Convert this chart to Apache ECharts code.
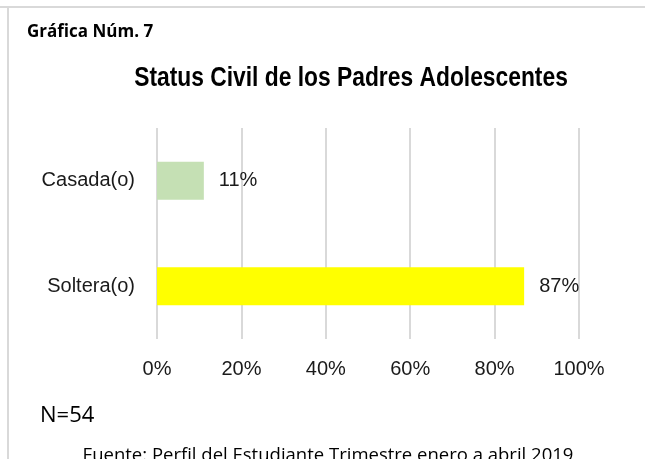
<!DOCTYPE html>
<html>
<head>
<meta charset="utf-8">
<style>
  html, body { margin: 0; padding: 0; background: #fff; }
  #main { width: 645px; height: 459px; }
</style>
<script src="https://cdn.jsdelivr.net/npm/echarts@6/dist/echarts.min.js"></script>
</head>
<body>
<div id="main"></div>
<script>
let categories = ['Casada(o)', 'Soltera(o)'];
let values = [11.1, 87.0];
let barColors = ['#c5e0b4', '#ffff00'];
let ticks = [0, 20, 40, 60, 80, 100];

let myChart = echarts.init(document.getElementById('main'));

// no narrow face installed, so Arial-metric sans at a width-matching size
let sans = '"Liberation Sans", Arial, sans-serif';
let body = '"Open Sans", sans-serif';

let option = {
    animation: false,
    backgroundColor: '#fff',
    grid: { left: 157, right: 66, top: 128, bottom: 120 },
    xAxis: {
        type: 'value',
        min: ticks[0],
        max: ticks[ticks.length - 1],
        interval: 20,
        axisLine: { show: false },
        axisTick: { show: false },
        splitLine: { lineStyle: { color: '#d9d9d9', width: 2 } },
        axisLabel: {
            margin: 20,
            color: '#1a1a1a',
            fontFamily: sans,
            fontSize: 20,
            formatter: '{value}%'
        }
    },
    yAxis: {
        type: 'category',
        inverse: true,
        data: categories,
        axisLine: { show: false },
        axisTick: { show: false },
        axisLabel: {
            margin: 22,
            color: '#1a1a1a',
            fontFamily: sans,
            fontSize: 20
        }
    },
    series: [{
        type: 'bar',
        barWidth: 38,
        data: values.map((v, i) => ({ value: v, itemStyle: { color: barColors[i] } })),
        label: {
            show: true,
            position: 'right',
            distance: 15,
            color: '#1a1a1a',
            fontFamily: sans,
            fontSize: 20,
            formatter: p => Math.round(p.value) + '%'
        }
    }],
    graphic: [
        { type: 'line', shape: { x1: 0, y1: 7, x2: 645, y2: 7 }, style: { stroke: '#d9d9d9', lineWidth: 2 } },
        { type: 'line', shape: { x1: 8, y1: 7, x2: 8, y2: 459 }, style: { stroke: '#d9d9d9', lineWidth: 2 } },
        { type: 'text', x: 27, y: 24, style: { text: 'Gráfica Núm. 7', font: 'bold 17px ' + body, fill: '#000' } },
        { type: 'text', x: 351, y: 65, scaleX: 0.845, style: { text: 'Status Civil de los Padres Adolescentes', font: 'bold 27px ' + sans, fill: '#000', textAlign: 'center' } },
        { type: 'text', x: 40, y: 405, style: { text: 'N=54', font: '22px ' + body, fill: '#000' } },
        { type: 'text', x: 328, y: 446, style: { text: 'Fuente: Perfil del Estudiante Trimestre enero a abril 2019', font: '18.5px ' + body, fill: '#000', textAlign: 'center' } }
    ]
};

myChart.setOption(option);
</script>
</body>
</html>
